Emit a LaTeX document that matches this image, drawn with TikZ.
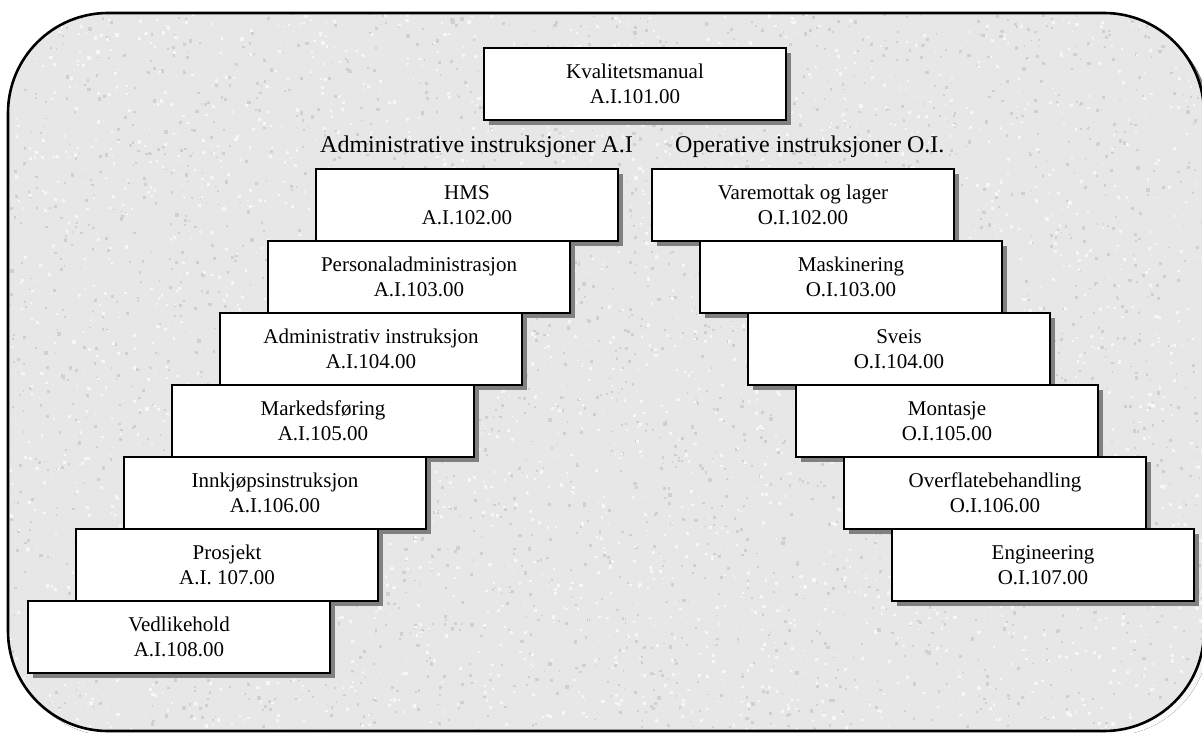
\documentclass[tikz,border=0pt]{standalone}
\usepackage{fontspec}
\setmainfont{Liberation Serif}
\usetikzlibrary{shadows}

\definecolor{stone}{RGB}{231,231,231}
\definecolor{speckdark}{RGB}{208,208,208}
\definecolor{specklight}{RGB}{246,246,246}
\definecolor{shade}{RGB}{128,128,128}

\tikzset{
  stepbox/.style={draw=black, line width=2.2pt, fill=white,
    minimum width=302pt, minimum height=72pt, inner sep=0pt,
    align=center, font=\fontsize{21}{25}\selectfont,
    drop shadow={shadow xshift=5pt, shadow yshift=-5pt, fill=shade, opacity=1}},
  heading/.style={anchor=base west, inner sep=0pt, font=\fontsize{24}{28}\selectfont},
  frameline/.style={line width=2.6pt, rounded corners=100pt},
}

\begin{document}
\begin{tikzpicture}[x=1pt, y=-1pt]
  \useasboundingbox (0,0) rectangle (1202,733);
  \clip (0,0) rectangle (1202,733);

  % framed granite panel with its shadow
  \fill[shade, rounded corners=100pt] (13,18) rectangle (1209,736);
  \fill[stone, rounded corners=100pt] (8,13) rectangle (1204,731);
  \begin{scope}
    \clip[rounded corners=100pt] (8,13) rectangle (1204,731);
    \pgfmathsetseed{7}
    % fine mottling: small dark and light grains
    \foreach \i in {1,...,3200}{
      \pgfmathsetmacro\rx{rnd*1210}
      \pgfmathsetmacro\ry{rnd*740}
      \pgfmathsetmacro\rr{1+rnd*2.5}
      \fill[speckdark] (\rx,\ry) rectangle ++(\rr,\rr);
    }
    \foreach \i in {1,...,3200}{
      \pgfmathsetmacro\rx{rnd*1210}
      \pgfmathsetmacro\ry{rnd*740}
      \pgfmathsetmacro\rr{1+rnd*2.5}
      \fill[specklight] (\rx,\ry) rectangle ++(\rr,\rr);
    }
  \end{scope}
  \draw[frameline] (8,13) rectangle (1204,731);

  % top document
  \node[stepbox] (km) at (635,84) {Kvalitetsmanual\\A.I.101.00};

  % column headings
  \node[heading] (hA) at (320,153) {Administrative instruksjoner A.I};
  \node[heading] (hO) at (675,153) {Operative instruksjoner O.I.};

  % administrative instructions, stepping down to the left
  \node[stepbox] (a2) at (467,205) {HMS\\A.I.102.00};
  \node[stepbox] (a3) at (419,277) {Personaladministrasjon\\A.I.103.00};
  \node[stepbox] (a4) at (371,349) {Administrativ instruksjon\\A.I.104.00};
  \node[stepbox] (a5) at (323,421) {Markedsføring\\A.I.105.00};
  \node[stepbox] (a6) at (275,493) {Innkjøpsinstruksjon\\A.I.106.00};
  \node[stepbox] (a7) at (227,565) {Prosjekt\\A.I. 107.00};
  \node[stepbox] (a8) at (179,637) {Vedlikehold\\A.I.108.00};

  % operative instructions, stepping down to the right
  \node[stepbox] (o2) at (803,205) {Varemottak og lager\\O.I.102.00};
  \node[stepbox] (o3) at (851,277) {Maskinering\\O.I.103.00};
  \node[stepbox] (o4) at (899,349) {Sveis\\O.I.104.00};
  \node[stepbox] (o5) at (947,421) {Montasje\\O.I.105.00};
  \node[stepbox] (o6) at (995,493) {Overflatebehandling\\O.I.106.00};
  \node[stepbox] (o7) at (1043,565) {Engineering\\O.I.107.00};
\end{tikzpicture}
\end{document}
